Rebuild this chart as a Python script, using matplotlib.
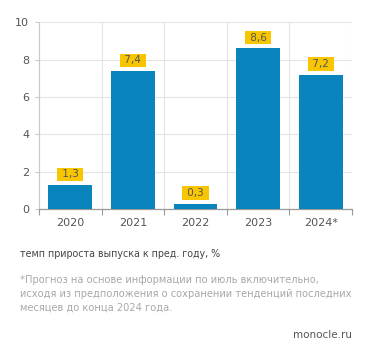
import numpy as np
import matplotlib
matplotlib.use('Agg')
import matplotlib.pyplot as plt

years = ['2020', '2021', '2022', '2023', '2024*']
growth = [1.3, 7.4, 0.3, 8.6, 7.2]
value_labels = ['1,3', '7,4', '0,3', '8,6', '7,2']

BAR_COLOR = '#0a84bd'
BOX_COLOR = '#f7c600'

plt.rcParams['font.family'] = ['DejaVu Sans']

fig = plt.figure(figsize=(3.71, 3.57), dpi=100)
ax = fig.add_axes([0.105, 0.414, 0.844, 0.524])

x = np.arange(len(years))
ax.bar(x, growth, width=0.7, color=BAR_COLOR, zorder=3)

# подписи значений в жёлтых плашках
for xi, v, lab in zip(x, growth, value_labels):
    ax.annotate('\u00a0' + lab + '\u00a0', (xi, v), xytext=(0, 4),
                textcoords='offset points',
                ha='center', va='bottom', fontsize=7.5, color='#555555',
                bbox=dict(boxstyle='square,pad=0.15', fc=BOX_COLOR, ec='none'),
                zorder=4)

ax.set_xlim(-0.5, len(years) - 0.5)
ax.set_ylim(0, 10)
ax.set_yticks([0, 2, 4, 6, 8, 10])
ax.set_xticks(x)
ax.set_xticklabels(years)
ax.set_xticks(np.arange(-0.5, len(years)), minor=True)

ax.grid(True, axis='y', color='#e4e4e4', linewidth=0.8, zorder=0)
ax.grid(True, axis='x', which='minor', color='#e4e4e4', linewidth=0.8, zorder=0)

ax.tick_params(axis='x', which='major', length=0, pad=6, labelsize=8, labelcolor='#555555')
ax.tick_params(axis='x', which='minor', length=4, color='#999999', width=0.8)
ax.tick_params(axis='y', length=3, color='#bbbbbb', width=0.6, pad=4,
               labelsize=8, labelcolor='#555555')

for side in ['top', 'right']:
    ax.spines[side].set_visible(False)
ax.spines['left'].set_color('#c8c8c8')
ax.spines['left'].set_linewidth(0.8)
ax.spines['bottom'].set_color('#999999')
ax.spines['bottom'].set_linewidth(0.9)

fig.text(0.053, 0.289, 'темп прироста выпуска к пред. году, %',
         fontsize=6.85, color='#444444', va='center')
fig.text(0.053, 0.176,
         '*Прогноз на основе информации по июль включительно,\n'
         'исходя из предположения о сохранении тенденций последних\n'
         'месяцев до конца 2024 года.',
         fontsize=7.1, color='#a8a8a8', va='center', linespacing=1.47)
fig.text(0.949, 0.062, 'monocle.ru', fontsize=7.5, color='#555555',
         ha='right', va='center')

fig.savefig('out.png', dpi=100)
